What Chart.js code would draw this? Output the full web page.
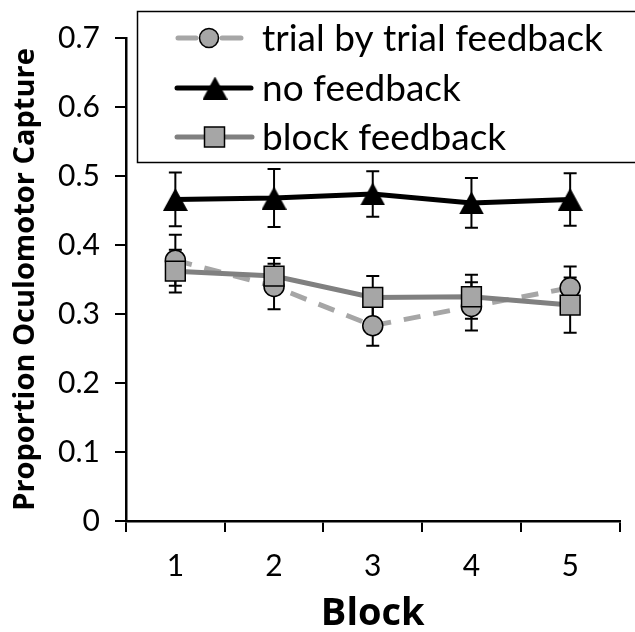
<!DOCTYPE html>
<html>
<head>
<meta charset="utf-8">
<script src="https://cdn.jsdelivr.net/npm/chart.js@4.4.1/dist/chart.umd.min.js"></script>
<style>
  html, body { margin: 0; padding: 0; background: #fff; }
  #wrap { width: 635px; height: 632px; }
</style>
</head>
<body>
<div id="wrap"><canvas id="myChart" width="635" height="632"></canvas></div>
<script>
// values
const blocks = ['1', '2', '3', '4', '5'];
const yTicks = [0, 0.1, 0.2, 0.3, 0.4, 0.5, 0.6, 0.7];

const trialMean = [0.378, 0.340, 0.283, 0.311, 0.338];
const trialErr  = [0.037, 0.033, 0.029, 0.035, 0.031];
const noFbMean  = [0.466, 0.468, 0.474, 0.461, 0.466];
const noFbErr   = [0.039, 0.042, 0.033, 0.036, 0.038];
const blockMean = [0.362, 0.355, 0.324, 0.325, 0.313];
const blockErr  = [0.031, 0.026, 0.031, 0.032, 0.040];

const seriesLabels = ['trial by trial feedback', 'no feedback', 'block feedback'];

const GRAY_LIGHT = '#a6a6a6';
const GRAY_MID = '#808080';

// triangle marker, centred on its bounding box like the original
function makeTriangle(w, h) {
    const c = document.createElement('canvas');
    c.width = w; c.height = h;
    const g = c.getContext('2d');
    g.fillStyle = '#000';
    g.beginPath();
    g.moveTo(w / 2, 0);
    g.lineTo(w, h);
    g.lineTo(0, h);
    g.closePath();
    g.fill();
    return c;
}
const triangle = makeTriangle(25, 23);

const errorBars = {
    id: 'errorBars',
    beforeDatasetsDraw(chart) {
        const ctx = chart.ctx;
        const y = chart.scales.y;
        ctx.save();
        ctx.strokeStyle = '#000';
        ctx.lineWidth = 2;
        chart.data.datasets.forEach((ds, i) => {
            const meta = chart.getDatasetMeta(i);
            meta.data.forEach((pt, j) => {
                const m = ds.data[j], e = ds.errors[j];
                const yt = y.getPixelForValue(m + e);
                const yb = y.getPixelForValue(m - e);
                ctx.beginPath();
                ctx.moveTo(pt.x, yt); ctx.lineTo(pt.x, yb);
                ctx.moveTo(pt.x - 6.5, yt); ctx.lineTo(pt.x + 6.5, yt);
                ctx.moveTo(pt.x - 6.5, yb); ctx.lineTo(pt.x + 6.5, yb);
                ctx.stroke();
            });
        });
        ctx.restore();
    }
};

const boxLegend = {
    id: 'boxLegend',
    afterDraw(chart) {
        const ctx = chart.ctx;
        ctx.save();
        ctx.strokeStyle = '#000';
        ctx.lineWidth = 1.5;
        ctx.strokeRect(137.5, 11.5, 520, 151);

        const rows = [38, 88, 137];
        ctx.font = '37px Lato';
        ctx.textBaseline = 'middle';
        ctx.fillStyle = '#000';

        // trial by trial
        ctx.strokeStyle = GRAY_LIGHT;
        ctx.lineWidth = 5;
        ctx.lineCap = 'round';
        ctx.beginPath();
        ctx.moveTo(178, rows[0]); ctx.lineTo(196, rows[0]);
        ctx.moveTo(222, rows[0]); ctx.lineTo(241, rows[0]);
        ctx.stroke();
        ctx.beginPath();
        ctx.arc(209, rows[0], 9.5, 0, Math.PI * 2);
        ctx.fillStyle = GRAY_LIGHT; ctx.fill();
        ctx.lineWidth = 1.5; ctx.strokeStyle = '#000'; ctx.stroke();

        // no feedback
        ctx.strokeStyle = '#000';
        ctx.lineWidth = 5;
        ctx.beginPath();
        ctx.moveTo(177, rows[1]); ctx.lineTo(251, rows[1]);
        ctx.stroke();
        ctx.drawImage(triangle, 215 - 12.5, rows[1] - 11.5);

        // block feedback
        ctx.strokeStyle = GRAY_MID;
        ctx.beginPath();
        ctx.moveTo(177, rows[2]); ctx.lineTo(252, rows[2]);
        ctx.stroke();
        ctx.fillStyle = GRAY_LIGHT;
        ctx.fillRect(204.5, rows[2] - 10, 20, 20);
        ctx.lineWidth = 1.5; ctx.strokeStyle = '#000';
        ctx.strokeRect(204.5, rows[2] - 10, 20, 20);

        ctx.fillStyle = '#000';
        seriesLabels.forEach((t, i) => ctx.fillText(t, 262, rows[i] + 1));
        ctx.restore();
    }
};

const ctx = document.getElementById('myChart').getContext('2d');

new Chart(ctx, {
    type: 'line',
    data: {
        labels: blocks,
        datasets: [{
            label: seriesLabels[0],
            data: trialMean,
            errors: trialErr,
            borderColor: GRAY_LIGHT,
            borderWidth: 5,
            borderDash: [17, 13],
            pointStyle: 'circle',
            pointRadius: 10,
            pointBackgroundColor: GRAY_LIGHT,
            pointBorderColor: '#000',
            pointBorderWidth: 1.5,
            order: 3
        }, {
            label: seriesLabels[1],
            data: noFbMean,
            errors: noFbErr,
            borderColor: '#000',
            borderWidth: 5,
            pointStyle: triangle,
            order: 1
        }, {
            label: seriesLabels[2],
            data: blockMean,
            errors: blockErr,
            borderColor: GRAY_MID,
            borderWidth: 5,
            pointStyle: 'rect',
            pointRadius: 14,
            pointBackgroundColor: GRAY_LIGHT,
            pointBorderColor: '#000',
            pointBorderWidth: 1.5,
            order: 2
        }]
    },
    options: {
        responsive: false,
        animation: false,
        layout: { padding: { top: 38, right: 9, left: 0, bottom: 0 } },
        plugins: { legend: { display: false }, tooltip: { enabled: false } },
        scales: {
            x: {
                offset: true,
                grid: { offset: true, drawOnChartArea: false, color: '#000', lineWidth: 2, tickLength: 11 },
                border: { color: '#000', width: 2.5 },
                ticks: { color: '#000', font: { family: 'Lato', size: 30 }, padding: 16, maxRotation: 0 },
                title: { display: true, text: 'Block', color: '#000', font: { family: 'Open Sans', size: 38, weight: 'bold', lineHeight: 0.95 }, padding: 0 },
                afterFit(scale) { scale.height = 111; }
            },
            y: {
                min: 0,
                max: 0.7,
                afterBuildTicks(scale) { scale.ticks = yTicks.map(v => ({ value: v })); },
                grid: { drawOnChartArea: false, color: '#000', lineWidth: 2, tickLength: 11 },
                border: { color: '#000', width: 2.5 },
                ticks: {
                    color: '#000',
                    font: { family: 'Lato', size: 30 },
                    padding: 15,
                    callback: v => v === 0 ? '0' : v.toFixed(1)
                },
                title: { display: true, text: 'Proportion Oculomotor Capture', color: '#000', font: { family: 'Open Sans', size: 29, weight: 'bold' }, padding: { top: 8, bottom: 0 } },
                afterFit(scale) { scale.width = 126; }
            }
        }
    },
    plugins: [errorBars, boxLegend]
});
</script>
</body>
</html>
